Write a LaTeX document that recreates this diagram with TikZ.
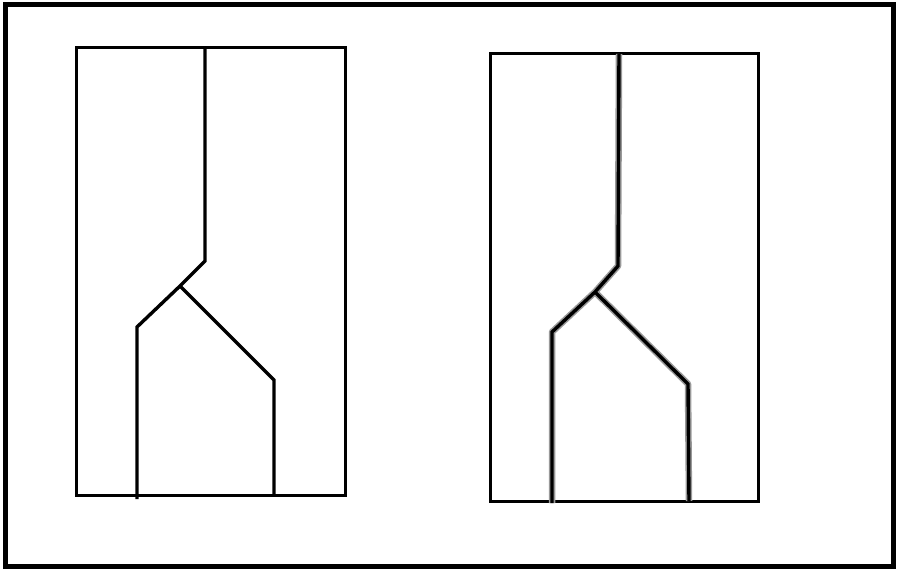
\documentclass[tikz,border=0pt]{standalone}
\begin{document}
\begin{tikzpicture}[x=1pt, y=1pt,
    frame/.style={line width=5pt},
    box/.style={line width=3pt},
    wire/.style={line width=3.4pt, line join=miter},
    fuzzy/.style={line width=6.5pt, draw=black!40, line join=round}]
  \useasboundingbox (0, 0) rectangle (900, 574);
  \draw[frame] (5, 8) rectangle (893, 569);
  % left: clean drawing
  \begin{scope}[shift={(76, 79)}]
    \draw[box] (0, 0) rectangle (269, 447);
    \coordinate (lj) at (104, 209);
    \draw[wire] (129, 447) -- (129, 234) -- (lj) -- (61, 168) -- (61, -4);
    \draw[wire] (lj) -- (198, 115) -- (198, 0);
  \end{scope}
  % right: same drawing, blurred strokes
  \begin{scope}[shift={(490, 73)}]
    \draw[box] (0, 0) rectangle (268, 447);
    \coordinate (rj) at (105, 209);
    \draw[fuzzy] (129, 447) -- (128, 235) -- (rj) -- (62, 169) -- (62, -2);
    \draw[fuzzy] (rj) -- (198, 117) -- (199, 0);
    \draw[wire] (129, 447) -- (128, 235) -- (rj) -- (62, 169) -- (62, -2);
    \draw[wire] (rj) -- (198, 117) -- (199, 0);
  \end{scope}
\end{tikzpicture}
\end{document}
